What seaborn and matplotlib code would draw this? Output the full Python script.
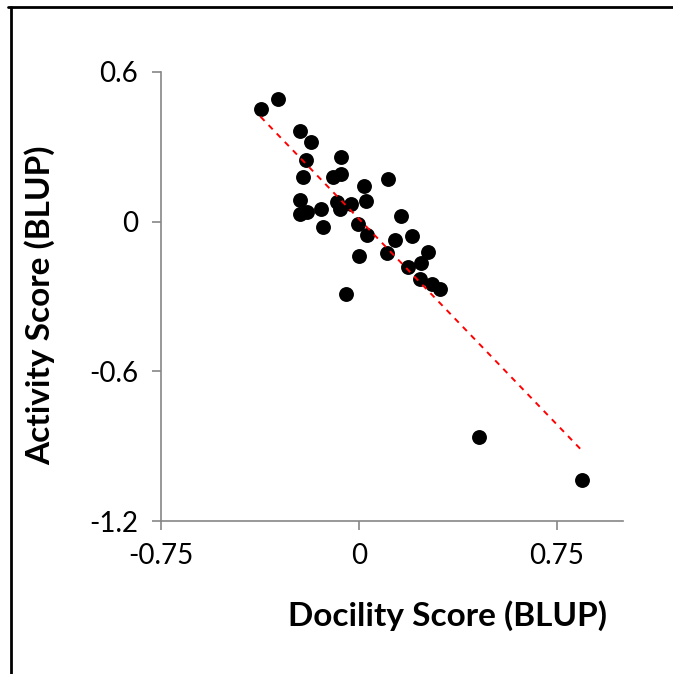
import numpy as np
import pandas as pd
import matplotlib
matplotlib.use("Agg")
import matplotlib.pyplot as plt
from matplotlib.lines import Line2D
import seaborn as sns

# ------------------------------
# Data
# ------------------------------
docility = [-0.373, -0.307, -0.222, -0.180, -0.200, -0.067, -0.214, -0.097, -0.070,
            0.111, 0.018, -0.222, -0.222, -0.196, -0.144, -0.084, -0.072, -0.030,
            0.025, -0.135, -0.003, 0.030, 0.160, 0.199, 0.136, -0.001, 0.105,
            0.262, 0.235, 0.184, 0.232, 0.276, 0.306, -0.050, 0.453, 0.845]
activity = [0.452, 0.492, 0.364, 0.320, 0.248, 0.261, 0.179, 0.179, 0.191,
            0.171, 0.141, 0.085, 0.031, 0.040, 0.051, 0.080, 0.052, 0.071,
            0.081, -0.020, -0.009, -0.055, 0.024, -0.057, -0.075, -0.139, -0.124,
            -0.121, -0.165, -0.181, -0.228, -0.251, -0.268, -0.288, -0.864, -1.036]

x_ticks = [-0.75, 0, 0.75]
x_tick_labels = ["-0.75", "0", "0.75"]
y_ticks = [0.6, 0, -0.6, -1.2]
y_tick_labels = ["0.6", "0", "-0.6", "-1.2"]

df = pd.DataFrame({"Docility": docility, "Activity": activity})

# ------------------------------
# Plot
# ------------------------------
sns.set_style("white")
plt.rcParams["font.family"] = ["Lato", "DejaVu Sans"]

fig = plt.figure(figsize=(6.73, 6.74), dpi=100)
ax = fig.add_axes([161 / 673, 1 - 521 / 674, (623 - 161) / 673, (521 - 72) / 674])

sns.regplot(data=df, x="Docility", y="Activity", ax=ax, ci=None, color="black",
            scatter_kws={"s": 115, "alpha": 1, "linewidths": 0},
            line_kws={"color": "red", "linestyle": (0, (3, 3)), "linewidth": 1.4})

ax.set_xlim(-0.75, 1.0)
ax.set_ylim(-1.2, 0.6)
ax.set_xticks(x_ticks)
ax.set_xticklabels(x_tick_labels)
ax.set_yticks(y_ticks)
ax.set_yticklabels(y_tick_labels)

for side in ["top", "right"]:
    ax.spines[side].set_visible(False)
for side in ["left", "bottom"]:
    ax.spines[side].set_color("#868686")
    ax.spines[side].set_linewidth(1.2)

ax.tick_params(axis="both", direction="out", length=6.5, width=1.2, color="#868686",
               labelsize=20, labelcolor="black", left=True, bottom=True)
ax.tick_params(axis="x", pad=9)
ax.tick_params(axis="y", pad=10)

ax.set_xlabel("Docility Score (BLUP)", fontsize=24, fontweight="bold", color="black")
ax.set_ylabel("Activity Score (BLUP)", fontsize=24, fontweight="bold", color="black")
ax.xaxis.set_label_coords((447 - 161) / (623 - 161), -(600 - 521) / (521 - 72))
ax.yaxis.set_label_coords(-(161 - 55) / (623 - 161), (521 - 305) / (521 - 72))

# outer frame of the original figure
fig.add_artist(Line2D([8 / 673, 1.0], [1 - 7 / 674, 1 - 7 / 674], color="black", linewidth=2))
fig.add_artist(Line2D([11 / 673, 11 / 673], [0, 1 - 7 / 674], color="black", linewidth=2))

fig.savefig("out.png", dpi=100)
